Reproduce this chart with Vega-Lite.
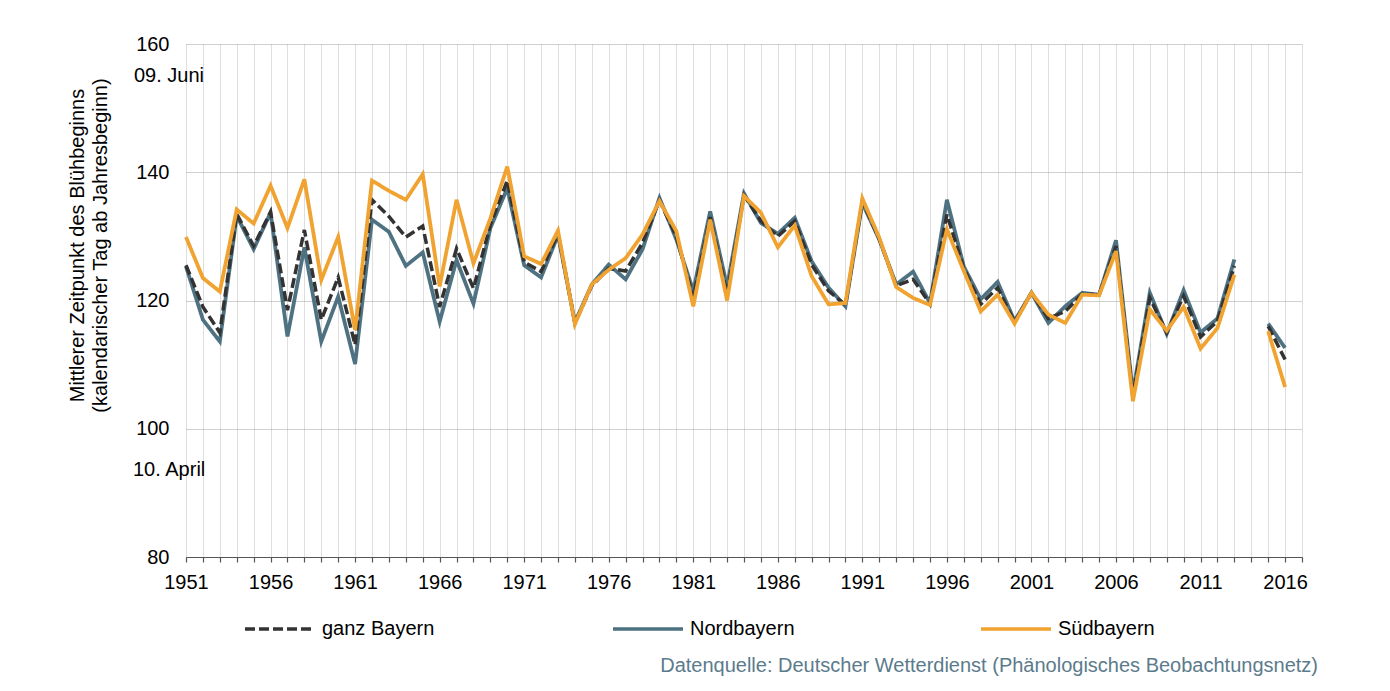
{
  "$schema": "https://vega.github.io/schema/vega-lite/v6.json",
  "width": 1116,
  "height": 513,
  "autosize": {"type": "none"},
  "padding": {"left": 186, "top": 44, "right": 88, "bottom": 134},
  "background": "white",
  "config": {"font": "Liberation Sans", "view": {"stroke": null}},
  "title": {
    "text": "Datenquelle: Deutscher Wetterdienst (Phänologisches Beobachtungsnetz)",
    "orient": "bottom",
    "anchor": "end",
    "frame": "group",
    "fontSize": 20,
    "fontWeight": "normal",
    "color": "#5B7B8C",
    "offset": 17,
    "dx": 16
  },
  "encoding": {
    "x": {
      "field": "year",
      "type": "quantitative",
      "scale": {"domain": [1951, 2017], "nice": false, "zero": false},
      "axis": {
        "title": null,
        "values": [1951,1952,1953,1954,1955,1956,1957,1958,1959,1960,1961,1962,1963,1964,1965,1966,1967,1968,1969,1970,1971,1972,1973,1974,1975,1976,1977,1978,1979,1980,1981,1982,1983,1984,1985,1986,1987,1988,1989,1990,1991,1992,1993,1994,1995,1996,1997,1998,1999,2000,2001,2002,2003,2004,2005,2006,2007,2008,2009,2010,2011,2012,2013,2014,2015,2016,2017],
        "format": "d",
        "labelExpr": "(datum.value - 1951) % 5 == 0 && datum.value < 2017 ? datum.label : ''",
        "labelOverlap": false,
        "labelFlush": false,
        "labelFontSize": 20,
        "labelColor": "black",
        "labelPadding": 10,
        "grid": true,
        "gridColor": "#bdbdbd",
        "gridDash": [1, 1],
        "gridWidth": 1,
        "domainColor": "#555555",
        "domainWidth": 1.2,
        "tickColor": "#555555",
        "tickSize": 5,
        "tickWidth": 1.2
      }
    },
    "y": {
      "field": "value",
      "type": "quantitative",
      "scale": {"domain": [80, 160], "nice": false, "zero": false},
      "axis": {
        "title": ["Mittlerer Zeitpunkt des  Blühbeginns", "(kalendarischer Tag ab Jahresbeginn)"],
        "titleFontSize": 20,
        "titleFontWeight": "normal",
        "titleColor": "black",
        "titleLineHeight": 23,
        "titlePadding": 25,
        "titleY": 201,
        "values": [80, 100, 120, 140, 160],
        "labelFontSize": 20,
        "labelColor": "black",
        "labelPadding": 17,
        "labelOverlap": false,
        "labelFlush": false,
        "ticks": false,
        "tickSize": 0,
        "domain": false,
        "grid": true,
        "gridColor": "#a0a0a0",
        "gridDash": [1, 1],
        "gridWidth": 1
      }
    }
  },
  "layer": [
    {
      "data": {
        "values": [
          {"year": 1951, "ganz Bayern": 125.5, "Nordbayern": 125.3, "Südbayern": 129.9},
          {"year": 1952, "ganz Bayern": 119.0, "Nordbayern": 117.0, "Südbayern": 123.5},
          {"year": 1953, "ganz Bayern": 115.0, "Nordbayern": 113.6, "Südbayern": 121.4},
          {"year": 1954, "ganz Bayern": 133.5, "Nordbayern": 133.2, "Südbayern": 134.2},
          {"year": 1955, "ganz Bayern": 128.5, "Nordbayern": 128.0, "Südbayern": 132.0},
          {"year": 1956, "ganz Bayern": 133.8, "Nordbayern": 133.7, "Südbayern": 137.9},
          {"year": 1957, "ganz Bayern": 118.5, "Nordbayern": 114.4, "Südbayern": 131.3},
          {"year": 1958, "ganz Bayern": 131.0, "Nordbayern": 128.3, "Südbayern": 138.9},
          {"year": 1959, "ganz Bayern": 117.0, "Nordbayern": 113.6, "Südbayern": 123.2},
          {"year": 1960, "ganz Bayern": 123.6, "Nordbayern": 120.6, "Südbayern": 129.9},
          {"year": 1961, "ganz Bayern": 113.1, "Nordbayern": 110.1, "Südbayern": 115.4},
          {"year": 1962, "ganz Bayern": 135.7, "Nordbayern": 132.6, "Südbayern": 138.7},
          {"year": 1963, "ganz Bayern": 133.1, "Nordbayern": 130.7, "Südbayern": 137.1},
          {"year": 1964, "ganz Bayern": 129.9, "Nordbayern": 125.4, "Südbayern": 135.7},
          {"year": 1965, "ganz Bayern": 131.6, "Nordbayern": 127.5, "Südbayern": 139.7},
          {"year": 1966, "ganz Bayern": 119.0, "Nordbayern": 116.7, "Südbayern": 122.2},
          {"year": 1967, "ganz Bayern": 128.1, "Nordbayern": 126.3, "Südbayern": 135.7},
          {"year": 1968, "ganz Bayern": 121.9, "Nordbayern": 119.5, "Südbayern": 125.8},
          {"year": 1969, "ganz Bayern": 131.8, "Nordbayern": 131.3, "Südbayern": 132.8},
          {"year": 1970, "ganz Bayern": 138.7, "Nordbayern": 137.5, "Südbayern": 140.9},
          {"year": 1971, "ganz Bayern": 126.0, "Nordbayern": 125.5, "Südbayern": 126.9},
          {"year": 1972, "ganz Bayern": 124.5, "Nordbayern": 123.6, "Südbayern": 125.7},
          {"year": 1973, "ganz Bayern": 130.5, "Nordbayern": 130.2, "Südbayern": 130.9},
          {"year": 1974, "ganz Bayern": 116.5, "Nordbayern": 116.6, "Südbayern": 116.3},
          {"year": 1975, "ganz Bayern": 122.3, "Nordbayern": 122.5, "Südbayern": 122.5},
          {"year": 1976, "ganz Bayern": 125.0, "Nordbayern": 125.6, "Südbayern": 124.8},
          {"year": 1977, "ganz Bayern": 124.6, "Nordbayern": 123.3, "Südbayern": 126.6},
          {"year": 1978, "ganz Bayern": 129.0, "Nordbayern": 128.0, "Südbayern": 130.3},
          {"year": 1979, "ganz Bayern": 135.6, "Nordbayern": 136.0, "Südbayern": 135.5},
          {"year": 1980, "ganz Bayern": 130.0, "Nordbayern": 129.5, "Südbayern": 130.8},
          {"year": 1981, "ganz Bayern": 120.5, "Nordbayern": 121.5, "Südbayern": 119.1},
          {"year": 1982, "ganz Bayern": 133.0, "Nordbayern": 133.9, "Südbayern": 132.6},
          {"year": 1983, "ganz Bayern": 121.0, "Nordbayern": 122.2, "Südbayern": 120.0},
          {"year": 1984, "ganz Bayern": 136.4, "Nordbayern": 136.7, "Südbayern": 136.3},
          {"year": 1985, "ganz Bayern": 132.4, "Nordbayern": 132.1, "Südbayern": 133.7},
          {"year": 1986, "ganz Bayern": 130.0, "Nordbayern": 130.4, "Südbayern": 128.3},
          {"year": 1987, "ganz Bayern": 132.4, "Nordbayern": 132.9, "Südbayern": 131.7},
          {"year": 1988, "ganz Bayern": 125.6, "Nordbayern": 126.1, "Südbayern": 123.8},
          {"year": 1989, "ganz Bayern": 121.5, "Nordbayern": 122.0, "Südbayern": 119.4},
          {"year": 1990, "ganz Bayern": 119.3, "Nordbayern": 119.1, "Südbayern": 119.6},
          {"year": 1991, "ganz Bayern": 135.5, "Nordbayern": 135.2, "Südbayern": 135.9},
          {"year": 1992, "ganz Bayern": 129.6, "Nordbayern": 129.5, "Südbayern": 129.8},
          {"year": 1993, "ganz Bayern": 122.3, "Nordbayern": 122.5, "Südbayern": 122.1},
          {"year": 1994, "ganz Bayern": 123.3, "Nordbayern": 124.5, "Südbayern": 120.4},
          {"year": 1995, "ganz Bayern": 119.5, "Nordbayern": 119.6, "Südbayern": 119.3},
          {"year": 1996, "ganz Bayern": 133.4, "Nordbayern": 135.7, "Südbayern": 131.1},
          {"year": 1997, "ganz Bayern": 125.0, "Nordbayern": 125.3, "Südbayern": 124.6},
          {"year": 1998, "ganz Bayern": 119.4, "Nordbayern": 120.2, "Südbayern": 118.3},
          {"year": 1999, "ganz Bayern": 122.0, "Nordbayern": 122.9, "Südbayern": 120.9},
          {"year": 2000, "ganz Bayern": 116.6, "Nordbayern": 116.8, "Südbayern": 116.4},
          {"year": 2001, "ganz Bayern": 121.2, "Nordbayern": 121.2, "Südbayern": 121.2},
          {"year": 2002, "ganz Bayern": 117.2, "Nordbayern": 116.5, "Südbayern": 117.8},
          {"year": 2003, "ganz Bayern": 118.3, "Nordbayern": 119.1, "Südbayern": 116.5},
          {"year": 2004, "ganz Bayern": 121.0, "Nordbayern": 121.2, "Südbayern": 120.9},
          {"year": 2005, "ganz Bayern": 120.9, "Nordbayern": 120.9, "Südbayern": 120.8},
          {"year": 2006, "ganz Bayern": 128.5, "Nordbayern": 129.4, "Südbayern": 127.7},
          {"year": 2007, "ganz Bayern": 105.0, "Nordbayern": 105.6, "Südbayern": 104.3},
          {"year": 2008, "ganz Bayern": 120.4, "Nordbayern": 121.2, "Südbayern": 118.6},
          {"year": 2009, "ganz Bayern": 115.0, "Nordbayern": 114.8, "Südbayern": 115.3},
          {"year": 2010, "ganz Bayern": 120.7, "Nordbayern": 121.6, "Südbayern": 119.0},
          {"year": 2011, "ganz Bayern": 114.3, "Nordbayern": 115.0, "Südbayern": 112.5},
          {"year": 2012, "ganz Bayern": 116.8, "Nordbayern": 117.2, "Südbayern": 115.7},
          {"year": 2013, "ganz Bayern": 125.4, "Nordbayern": 126.4, "Südbayern": 124.0},
          {"year": 2014, "ganz Bayern": null, "Nordbayern": null, "Südbayern": null},
          {"year": 2015, "ganz Bayern": 116.0, "Nordbayern": 116.4, "Südbayern": 115.2},
          {"year": 2016, "ganz Bayern": 110.8, "Nordbayern": 112.6, "Südbayern": 106.5}
        ]
      },
      "transform": [
        {"fold": ["ganz Bayern", "Nordbayern", "Südbayern"], "as": ["region", "value"]}
      ],
      "encoding": {
        "color": {
          "field": "region",
          "type": "nominal",
          "scale": {
            "domain": ["ganz Bayern", "Nordbayern", "Südbayern"],
            "range": ["#333333", "#4E7282", "#F0A330"]
          },
          "legend": {
            "title": null,
            "orient": "none",
            "legendX": 57,
            "legendY": 548,
            "direction": "horizontal",
            "columns": 3,
            "gridAlign": "all",
            "padding": 0,
            "symbolType": "stroke",
            "symbolSize": 4900,
            "symbolStrokeWidth": 3.5,
            "labelFontSize": 20,
            "labelColor": "black",
            "labelOffset": 5,
            "columnPadding": 171
          }
        },
        "strokeDash": {
          "field": "region",
          "type": "nominal",
          "scale": {
            "domain": ["ganz Bayern", "Nordbayern", "Südbayern"],
            "range": [[10, 4], [1, 0], [1, 0]]
          },
          "legend": {
            "title": null,
            "orient": "none",
            "legendX": 57,
            "legendY": 548,
            "direction": "horizontal",
            "columns": 3,
            "gridAlign": "all",
            "padding": 0,
            "symbolType": "stroke",
            "symbolSize": 4900,
            "symbolStrokeWidth": 3.5,
            "labelFontSize": 20,
            "labelColor": "black",
            "labelOffset": 5,
            "columnPadding": 171
          }
        }
      },
      "layer": [
        {
          "transform": [{"filter": "datum.region == 'Nordbayern'"}],
          "mark": {"type": "line", "strokeWidth": 3.8, "strokeCap": "butt", "strokeJoin": "miter"}
        },
        {
          "transform": [{"filter": "datum.region == 'ganz Bayern'"}],
          "mark": {"type": "line", "strokeWidth": 3.5, "strokeCap": "butt", "strokeJoin": "miter"}
        },
        {
          "transform": [{"filter": "datum.region == 'Südbayern'"}],
          "mark": {"type": "line", "strokeWidth": 3.8, "strokeCap": "butt", "strokeJoin": "miter"}
        }
      ]
    },
    {
      "data": {"values": [{"year": 1951, "value": 160, "label": "09. Juni"}]},
      "mark": {"type": "text", "align": "left", "baseline": "middle", "dx": -52, "dy": 32, "fontSize": 20, "color": "black"},
      "encoding": {
        "text": {"field": "label"}
      }
    },
    {
      "data": {"values": [{"year": 1951, "value": 100, "label": "10. April"}]},
      "mark": {"type": "text", "align": "left", "baseline": "middle", "dx": -53, "dy": 41, "fontSize": 20, "color": "black"},
      "encoding": {
        "text": {"field": "label"}
      }
    }
  ]
}
